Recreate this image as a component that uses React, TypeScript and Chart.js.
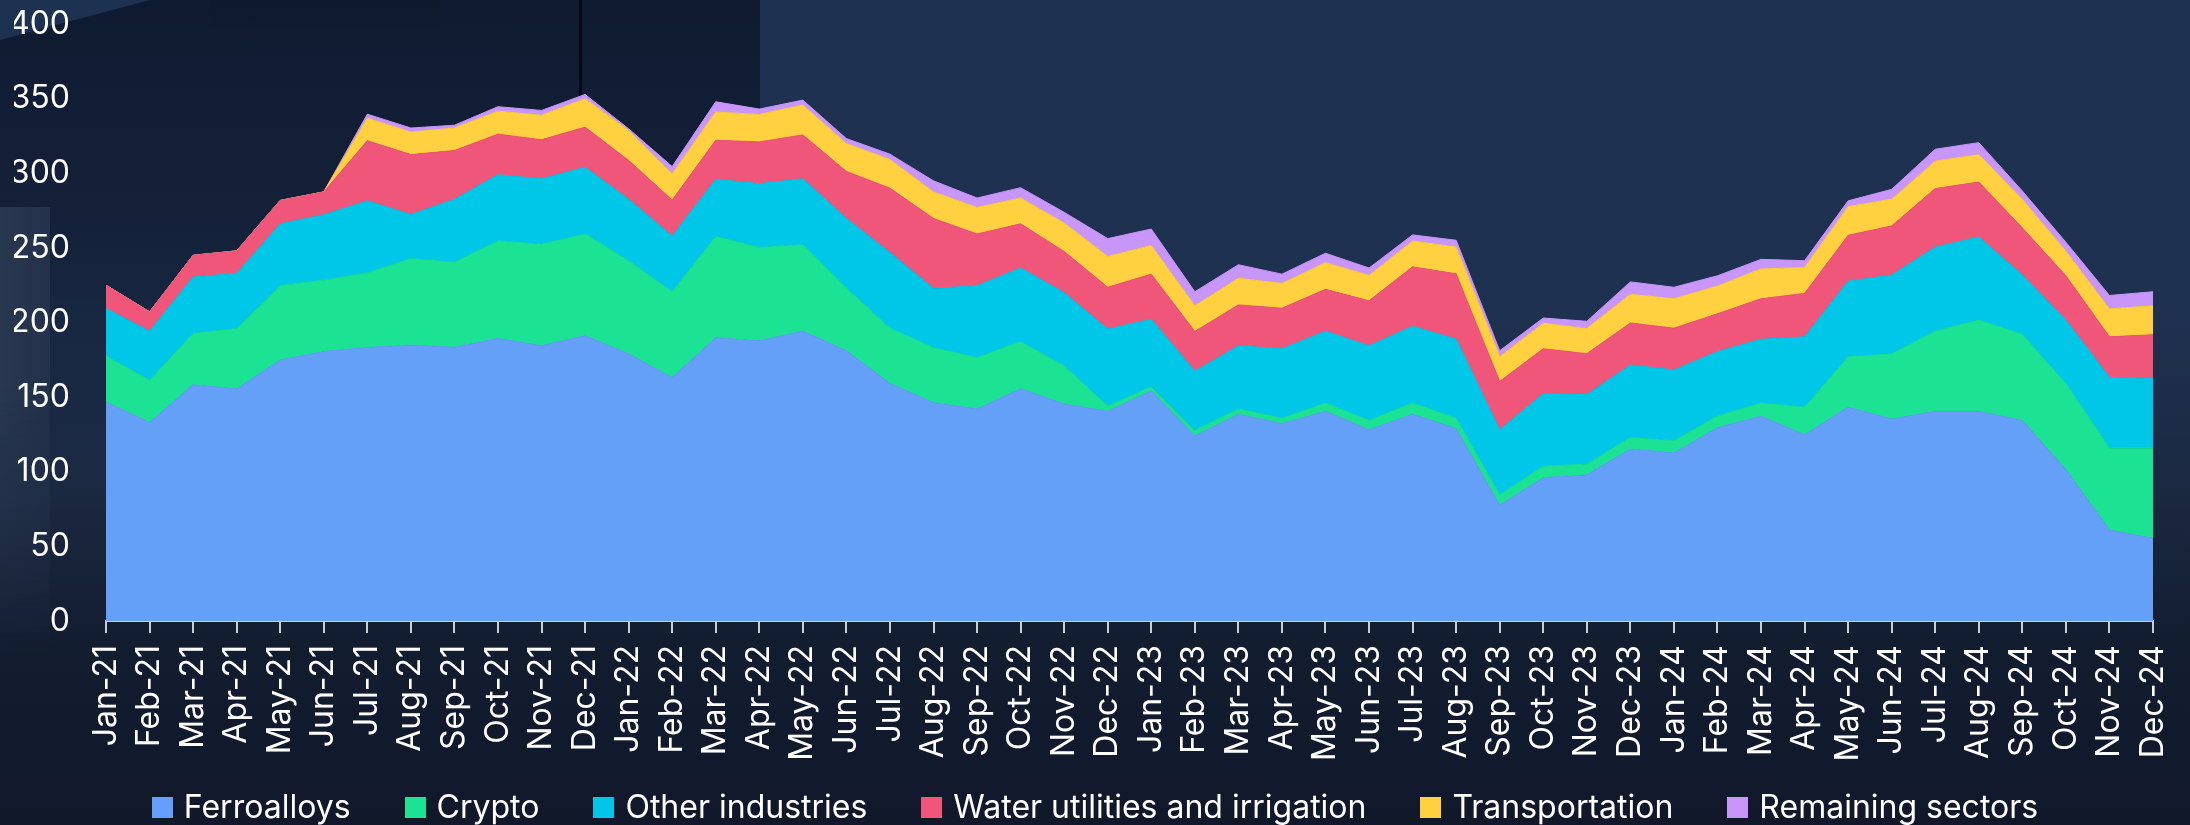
import React, { useEffect, useRef } from "react";
import { Chart, registerables } from "chart.js";

Chart.register(...registerables);

const months = [
  "Jan-21","Feb-21","Mar-21","Apr-21","May-21","Jun-21","Jul-21","Aug-21","Sep-21","Oct-21","Nov-21","Dec-21",
  "Jan-22","Feb-22","Mar-22","Apr-22","May-22","Jun-22","Jul-22","Aug-22","Sep-22","Oct-22","Nov-22","Dec-22",
  "Jan-23","Feb-23","Mar-23","Apr-23","May-23","Jun-23","Jul-23","Aug-23","Sep-23","Oct-23","Nov-23","Dec-23",
  "Jan-24","Feb-24","Mar-24","Apr-24","May-24","Jun-24","Jul-24","Aug-24","Sep-24","Oct-24","Nov-24","Dec-24",
];

const ferroalloys = [
  146.8,133,158.3,155.6,174.8,180.5,183.3,184.9,183.5,189.3,184.4,191.2,
  178.9,163.2,189.8,187.7,194.2,181.1,159.1,146.2,142.1,155.6,145.4,140.5,
  154.2,124,138.5,132.2,140.5,128.1,138.5,128.9,77.6,96,97.9,115.2,
  112.5,129.5,137.2,124.8,143.2,135.3,140.5,140.5,134.4,101.5,60.9,55.4,
];
const crypto = [
  30.7,28.3,34.3,40.3,49.9,47.8,49.9,57.9,56.8,65.3,68,68.1,
  62.5,57.4,67.8,62.5,57.9,41.9,37.1,36.8,34.3,31.5,25.5,3.5,
  2.7,3.6,3.6,3.6,5.5,6.3,7.5,6.9,6.9,7.7,7.2,7.7,
  8.2,7.7,8.8,18.4,33.8,43.6,53.7,61.1,57.6,57.6,54.9,60.4,
];
const otherIndustries = [
  31.8,32.9,37.9,37,41.4,43.9,48.3,29.6,42.3,44.4,43.9,44.7,
  41.2,37.3,38.4,42.8,44.2,46.7,50.7,39.8,48.3,49.4,49.1,51.6,
  45.3,39.8,42.3,46.6,48.2,50,51.5,53,43.6,48.6,46.6,48.6,
  47.5,43.3,42.8,47.2,50.7,52.9,56.3,55.7,39.8,42.5,47.4,46.6,
];
const waterUtilities = [
  15.7,12.9,14.5,15.1,15.7,15.3,40.3,40.1,32.6,27.2,26.1,26.9,
  26,24.1,26.1,28,29.4,31.5,43.1,46.9,34.6,29.6,27.5,28,
  30.2,26.6,27.4,27.2,28,30.1,39.8,43.8,32.4,30.1,27.4,28.2,
  28,25.3,27.1,29.1,30.7,32.9,39.2,36.8,31.6,29.7,27.2,29.4,
];
const transportation = [
  0,0,0,0,0,0,15.1,15.1,15.1,15.4,16.4,19.1,
  20.1,17.6,18.9,18.4,20,18.7,19.2,17.8,17.8,17.3,19.2,20.6,
  19.2,17.2,17.8,16.5,17.9,17,17.3,17.9,16.5,17.1,16.8,19.2,
  19.7,18.6,20,17.3,19.2,17.9,18.4,18.4,19.2,16.5,18.7,19.4,
];
const remainingSectors = [
  0,0,0,0,0,0,2.7,2.7,1.9,3,3.3,2.8,
  1.1,4.9,6.9,3.6,3.3,3.3,3.6,7.4,6.3,6.9,7.1,12,
  11,9.4,9.1,6.3,6.3,5,4.1,4.6,4.1,3.5,4.9,8.3,
  7.7,6.9,6.4,4.6,3.9,6.6,8,8,5.5,6,9,9.4,
];

const seriesNames = [
  "Ferroalloys",
  "Crypto",
  "Other industries",
  "Water utilities and irrigation",
  "Transportation",
  "Remaining sectors",
];
const seriesColors = ["#64a0f7", "#1ce294", "#00c7e8", "#ef5679", "#ffd03f", "#c895f9"];
const seriesData = [ferroalloys, crypto, otherIndustries, waterUtilities, transportation, remainingSectors];

const yTicks = [0, 50, 100, 150, 200, 250, 300, 350, 400];

const FONT = "Inter, 'Noto Sans', sans-serif";

export default function App() {
  const canvasRef = useRef<HTMLCanvasElement | null>(null);

  useEffect(() => {
    document.body.style.margin = "0";
    const canvas = canvasRef.current;
    if (!canvas) return;
    const chart = new Chart(canvas, {
      type: "line",
      data: {
        labels: months,
        datasets: seriesData.map((d, i) => ({
          label: seriesNames[i],
          data: d,
          backgroundColor: seriesColors[i],
          borderColor: seriesColors[i],
          borderWidth: 1,
          pointRadius: 0,
          pointHoverRadius: 0,
          tension: 0,
          fill: i === 0 ? "origin" : "-1",
        })),
      },
      options: {
        animation: false,
        responsive: false,
        maintainAspectRatio: false,
        layout: { padding: { left: 14, right: 37, top: 24, bottom: 0 } },
        plugins: {
          legend: { display: false },
          tooltip: { enabled: false },
        },
        scales: {
          x: {
            grid: {
              display: true,
              drawOnChartArea: false,
              drawTicks: true,
              tickLength: 12,
              color: "#c9cdd4",
              lineWidth: 2,
            },
            border: { display: true, color: "#c9cdd4", width: 2 },
            ticks: {
              color: "#ffffff",
              font: { family: FONT, size: 32 },
              maxRotation: 90,
              minRotation: 90,
              autoSkip: false,
              padding: 12,
            },
            afterFit: (axis: any) => {
              axis.paddingLeft = 0;
              axis.paddingRight = 0;
              axis.height = 204;
            },
          },
          y: {
            stacked: true,
            min: 0,
            max: 400,
            afterBuildTicks: (axis: any) => {
              axis.ticks = yTicks.map((v) => ({ value: v }));
            },
            grid: { display: false, drawTicks: false },
            border: { display: false },
            ticks: {
              color: "#ffffff",
              font: { family: FONT, size: 32 },
              padding: 36,
            },
            afterFit: (axis: any) => {
              axis.paddingTop = 0;
              axis.paddingBottom = 0;
              axis.width = 92;
            },
          },
        },
      },
    });
    return () => chart.destroy();
  }, []);

  return (
    <div
      style={{
        position: "relative",
        width: 2190,
        height: 825,
        overflow: "hidden",
        background:
          "linear-gradient(180deg, #1f3150 0%, #1f3150 38%, #1a2840 60%, #131d30 78%, #10182a 100%)",
        fontFamily: FONT,
      }}
    >
      <div style={{ position: "absolute", left: 0, top: 0, width: 760, height: 470, background: "linear-gradient(180deg, rgba(9,18,36,0.72) 0%, rgba(9,18,36,0.5) 50%, rgba(9,18,36,0) 100%)" }} />
      <div style={{ position: "absolute", left: 210, top: 0, width: 230, height: 40, background: "linear-gradient(180deg, rgba(6,14,28,0.18), rgba(6,14,28,0))" }} />
      <div style={{ position: "absolute", left: 0, top: 0, width: 150, height: 40, background: "#1d3150", clipPath: "polygon(0 0, 100% 0, 0 100%)" }} />
      <div style={{ position: "absolute", left: 0, top: 207, width: 50, height: 450, background: "linear-gradient(90deg, #28384f 0%, #23314a 100%)", maskImage: "linear-gradient(180deg, #000 0%, #000 40%, transparent 100%)", WebkitMaskImage: "linear-gradient(180deg, #000 0%, #000 40%, transparent 100%)" } as any} />
      <div style={{ position: "absolute", left: 579, top: 0, width: 3, height: 300, background: "#050b16" }} />
      <canvas ref={canvasRef} width={2190} height={825} style={{ position: "absolute", left: 0, top: 0, width: 2190, height: 825 }} />
      <div
        style={{
          position: "absolute",
          left: 0,
          top: 790,
          width: 2190,
          display: "flex",
          justifyContent: "center",
          alignItems: "center",
          gap: 54,
          color: "#ffffff",
          fontSize: 32,
          lineHeight: "34px",
        }}
      >
        {seriesNames.map((n, i) => (
          <div key={n} style={{ display: "flex", alignItems: "center", gap: 11 }}>
            <span style={{ display: "inline-block", width: 21, height: 21, background: seriesColors[i] }} />
            <span>{n}</span>
          </div>
        ))}
      </div>
    </div>
  );
}
